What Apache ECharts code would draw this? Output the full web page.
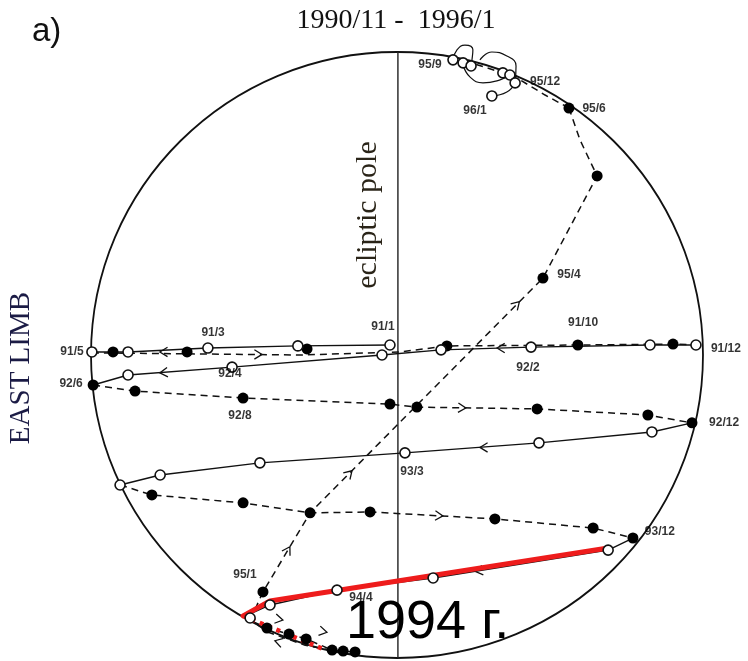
<!DOCTYPE html>
<html>
<head>
<meta charset="utf-8">
<script src="https://cdn.jsdelivr.net/npm/echarts@6/dist/echarts.min.js"></script>
<style>
html,body{margin:0;padding:0;background:#fff;}
#chart{width:748px;height:661px;}
</style>
</head>
<body>
<div id="chart"></div>
<script>
// Disk coordinates: origin at disk centre, limb radius = 100 units.
const limbRadius = 100;

// Monthly positions seen on the near side (open circles)
const openPoints = [
  [-2.3,3.3],[-4.9,0.0],[-32.4,3.0],[-61.8,2.3],[-87.9,1.0],[-99.7,1.0],
  [14.4,1.7],[43.8,2.6],[82.7,3.3],[97.7,3.3],[-53.9,-4.0],[-87.9,-6.6],
  [83.3,-25.4],[46.4,-29.0],[2.6,-32.3],[-44.8,-35.6],[-77.4,-39.6],[-90.5,-42.9],
  [69.0,-64.4],[11.8,-73.6],[-19.6,-77.6],[-41.5,-82.5],[-48.0,-86.8],
  [18.3,97.4],[21.6,96.4],[24.2,95.4],[34.6,93.1],[36.9,92.4],[38.6,89.8],[31.0,85.5]
];

// Monthly positions on the far side (filled circles)
const filledPoints = [
  [-92.8,1.0],[-68.6,1.0],[-29.4,2.0],[16.3,3.0],[59.1,3.3],[90.2,3.6],
  [-99.3,-9.9],[-85.6,-11.9],[-50.3,-14.2],[-2.3,-16.2],[6.5,-17.2],[45.8,-17.8],[82.0,-19.8],[96.4,-22.4],
  [-80.1,-46.2],[-50.3,-48.8],[-28.4,-52.1],[-8.8,-51.8],[32.0,-54.1],[64.1,-57.1],[77.1,-60.4],
  [-43.8,-78.2],[-42.5,-90.1],[-35.3,-92.1],[-29.7,-93.7],[-21.2,-97.4],[-17.6,-97.7],[-13.7,-98.0],
  [47.7,25.4],[65.4,59.1],[56.2,81.5]
];

// Near-side path segments (solid)
const solidTracks = [
  [[-2.3,3.3],[-32.4,3.0],[-61.8,2.3],[-87.9,1.0],[-99.7,1.0]],
  [[97.7,3.3],[82.7,3.3],[43.8,2.6],[14.4,1.7],[-4.9,0.0],[-53.9,-4.0],[-87.9,-6.6],[-99.3,-9.9]],
  [[96.4,-22.4],[83.3,-25.4],[46.4,-29.0],[2.6,-32.3],[-44.8,-35.6],[-77.4,-39.6],[-90.5,-42.9]],
  [[77.1,-60.4],[69.0,-64.4],[11.8,-73.6],[-19.6,-77.6],[-41.5,-82.5],[-50.3,-86.5]]
];

// Far-side path segments (dashed)
const dashedTracks = [
  [[-99.7,0.7],[-31.7,0.0],[1.0,1.0],[16.3,3.0],[59.1,3.3],[90.2,3.6],[97.7,3.3]],
  [[-99.3,-9.9],[-85.6,-11.9],[-50.3,-14.2],[-2.3,-16.2],[6.5,-17.2],[45.8,-17.8],[82.0,-19.8],[96.4,-22.4]],
  [[-90.5,-42.9],[-80.1,-46.2],[-50.3,-48.8],[-28.4,-52.1],[-8.8,-51.8],[32.0,-54.1],[64.1,-57.1],[77.1,-60.4]],
  [[-50.3,-86.5],[-42.5,-90.1],[-35.3,-92.1],[-29.7,-93.7],[-21.2,-97.4],[-17.6,-97.7],[-13.7,-98.0]],
  [[-13.7,-99.0],[-30.0,-95.8],[-42.0,-91.5],[-48.0,-87.5]],
  [[-48.0,-87.5],[-43.8,-78.2],[-28.4,-52.1],[47.7,25.4],[65.4,59.1],[59.8,71.0],[56.2,81.5]],
  [[56.2,81.5],[48.4,85.8],[40.2,90.8],[33.7,93.4],[25.5,96.0],[18.3,97.4]]
];

// Looping path near the north limb, 1995/9 - 1996/1
const loopTracks = [
  [[18.3,97.4],[19.6,100.7],[22.2,102.3],[24.8,100.7],[24.5,97.4],[24.2,95.4]],
  [[21.6,95.7],[23.9,91.7],[28.1,89.8],[33.7,90.8],[36.9,92.4]],
  [[27.1,97.4],[31.0,100.0],[35.9,98.7],[38.9,95.4],[38.6,89.8]],
  [[38.6,89.8],[35.9,86.8],[31.0,85.5]]
];

// 1994 segment
const highlightTrack = [[69.0,-63.7],[-41.5,-81.2],[-50.3,-86.1]];
const highlightDotted = [[-50.3,-86.1],[-24.2,-97.0]];

// Direction arrows: [x, y, dx, dy]
const arrows = [
  [-77.5,1.0,-1,0],[-44.1,0.2,1,0],[32.7,2.3,-1,0],[-77.5,-5.9,-1,-0.1],
  [22.5,-17.5,1,-0.05],[27.1,-30.5,-1,0],[15.0,-53.1,1,-0.05],[25.5,-71.4,-1,-0.16],
  [-35.0,-63.3,15.4,26.1],[-14.7,-38.2,76.1,77.5],[40.0,17.6,76.1,77.5],
  [-37.3,-87.5,1,-0.2],[-22.9,-91.5,1,-0.2],[-39.9,-94.3,-1,0.3]
];

// Date labels: [x, y, text]
const dateLabels = [
  [-4.6,9.2,'91/1'],[-60.1,7.3,'91/3'],[-106.2,1.0,'91/5'],[-106.5,-9.6,'92/6'],
  [-54.6,-6.3,'92/4'],[-51.3,-20.1,'92/8'],[42.8,-4.3,'92/2'],[60.8,10.6,'91/10'],
  [107.5,2.0,'91/12'],[106.9,-22.4,'92/12'],[4.9,-38.6,'93/3'],[85.9,-58.4,'93/12'],
  [-49.7,-72.6,'95/1'],[-11.8,-80.2,'94/4'],[56.2,26.4,'95/4'],[64.4,81.2,'95/6'],
  [10.8,95.7,'95/9'],[48.4,90.1,'95/12'],[25.5,80.5,'96/1']
];

// Central meridian (ecliptic pole direction)
const poleLine = [[0.3,100],[0.3,-100]];

const INK = '#111';
const chart = echarts.init(document.getElementById('chart'), null, {renderer:'canvas'});

const series = [];

series.push({
  type:'custom', silent:true, z:1,
  data:[[0,0]],
  renderItem:function(params, api){
    const c = api.coord([api.value(0), api.value(1)]);
    const rx = api.size([limbRadius,0])[0];
    const ry = api.size([0,limbRadius])[1];
    return {type:'ellipse', shape:{cx:c[0], cy:c[1], rx:rx, ry:ry},
            style:{fill:null, stroke:INK, lineWidth:1.8}};
  }
});

series.push({type:'line', data:poleLine, symbol:'none', silent:true, z:1,
  lineStyle:{color:'#222', width:1.4}});

solidTracks.forEach(function(t){
  series.push({type:'line', data:t, symbol:'none', silent:true, z:2,
    lineStyle:{color:INK, width:1.4}});
});
dashedTracks.forEach(function(t){
  series.push({type:'line', data:t, symbol:'none', silent:true, z:2,
    lineStyle:{color:INK, width:1.5, type:[7,5]}});
});
loopTracks.forEach(function(t){
  series.push({type:'line', data:t, symbol:'none', smooth:0.5, silent:true, z:2,
    lineStyle:{color:INK, width:1.2}});
});

series.push({
  type:'custom', silent:true, z:3, data:arrows,
  renderItem:function(params, api){
    const p = api.coord([api.value(0), api.value(1)]);
    const q = api.coord([api.value(0)+api.value(2), api.value(1)+api.value(3)]);
    const a = Math.atan2(q[1]-p[1], q[0]-p[0]);
    const L = 9, h = 0.55;
    const p1 = [p[0]-L*Math.cos(a-h), p[1]-L*Math.sin(a-h)];
    const p2 = [p[0]-L*Math.cos(a+h), p[1]-L*Math.sin(a+h)];
    return {type:'polyline', shape:{points:[p1,p,p2]},
            style:{stroke:INK, lineWidth:1.3, fill:null}};
  }
});

series.push({type:'line', data:highlightTrack, symbol:'none', silent:true, z:4,
  lineStyle:{color:'#ee1c1c', width:5, cap:'round', join:'round'}});
series.push({type:'line', data:highlightDotted, symbol:'none', silent:true, z:4,
  lineStyle:{color:'#ee1c1c', width:4.5, type:[4,5]}});

series.push({type:'scatter', data:filledPoints, symbol:'circle', symbolSize:11, silent:true, z:5,
  itemStyle:{color:'#000', opacity:1}});
series.push({type:'scatter', data:openPoints, symbol:'circle', symbolSize:10, silent:true, z:5,
  itemStyle:{color:'#fff', borderColor:INK, borderWidth:1.6, opacity:1}});

series.push({type:'scatter', data:dateLabels, symbol:'circle', symbolSize:1, silent:true, z:6,
  itemStyle:{color:'rgba(0,0,0,0)'},
  label:{show:true, position:'inside', formatter:function(p){return p.value[2];},
    color:'#000', fontFamily:'Liberation Sans, Arial, sans-serif', fontWeight:'bold', fontSize:12}});

chart.setOption({
  animation:false,
  backgroundColor:'#fff',
  grid:{left:0, right:0, top:0, bottom:0},
  xAxis:{type:'value', min:-129.74, max:114.71, show:false},
  yAxis:{type:'value', min:-100.99, max:117.16, show:false},
  graphic:[
    {type:'text', x:396, y:21, style:{text:'1990/11 -  1996/1',
      font:'28px "Liberation Serif", "Times New Roman", serif', fill:'#111',
      align:'center', verticalAlign:'middle'}},
    {type:'text', left:32, top:15, style:{text:'a)',
      font:'33px "Liberation Sans", Arial, sans-serif', fill:'#111'}},
    {type:'text', x:21, y:368, rotation:Math.PI/2, style:{text:'EAST LIMB',
      font:'29px "Liberation Serif", "Times New Roman", serif', fill:'#1b1b45',
      align:'center', verticalAlign:'middle'}},
    {type:'text', x:368, y:215, rotation:Math.PI/2, style:{text:'ecliptic pole',
      font:'30px "Liberation Serif", "Times New Roman", serif', fill:'#2a2418',
      align:'center', verticalAlign:'middle'}},
    {type:'text', left:346, top:596, z:10, style:{text:'1994 г.',
      font:'54px "Liberation Sans", Arial, sans-serif', fill:'#000'}}
  ],
  series:series
});
</script>
</body>
</html>
